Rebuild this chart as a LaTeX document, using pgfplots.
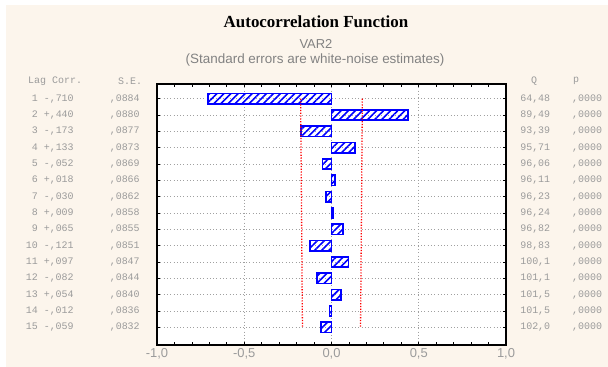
\documentclass[border=0pt]{standalone}
\usepackage{fontspec}
\setmainfont{Liberation Sans}
\setmonofont{Liberation Mono}
\newfontfamily\titlefont{Liberation Serif}
\usepackage{pgfplots}
\pgfplotsset{compat=1.18}
\usepackage{pgfplotstable}
\usetikzlibrary{patterns.meta}
\definecolor{cream}{RGB}{252,245,236}
\definecolor{txt}{RGB}{155,155,155}
\definecolor{subc}{RGB}{130,130,130}
\definecolor{gridc}{RGB}{160,160,160}

\pgfplotstableread{
lag corr   rs    ses   lo      hi     q     p
1  -0.710 -,710 ,0884 -0.1768 0.1768 64,48 ,0000
2   0.440 +,440 ,0880 -0.1760 0.1760 89,49 ,0000
3  -0.173 -,173 ,0877 -0.1754 0.1754 93,39 ,0000
4   0.133 +,133 ,0873 -0.1746 0.1746 95,71 ,0000
5  -0.052 -,052 ,0869 -0.1738 0.1738 96,06 ,0000
6   0.018 +,018 ,0866 -0.1732 0.1732 96,11 ,0000
7  -0.030 -,030 ,0862 -0.1724 0.1724 96,23 ,0000
8   0.009 +,009 ,0858 -0.1716 0.1716 96,24 ,0000
9   0.065 +,065 ,0855 -0.1710 0.1710 96,82 ,0000
10 -0.121 -,121 ,0851 -0.1702 0.1702 98,83 ,0000
11  0.097 +,097 ,0847 -0.1694 0.1694 100,1 ,0000
12 -0.082 -,082 ,0844 -0.1688 0.1688 101,1 ,0000
13  0.054 +,054 ,0840 -0.1680 0.1680 101,5 ,0000
14 -0.012 -,012 ,0836 -0.1672 0.1672 101,5 ,0000
15 -0.059 -,059 ,0832 -0.1664 0.1664 102,0 ,0000
}\acf

\begin{document}
\begin{tikzpicture}
\path[use as bounding box, fill=white] (0,0) rectangle (608bp,367bp);
\fill[cream] (6bp,0) rectangle (608bp,362bp);

\node[font=\titlefont\bfseries\fontsize{17}{17}\selectfont] at (316bp,345bp) {Autocorrelation Function};
\node[text=subc, font=\fontsize{13}{13}\selectfont] at (316bp,323bp) {VAR2};
\node[text=subc, font=\fontsize{13.5}{13.5}\selectfont] at (315bp,307bp) {(Standard errors are white-noise estimates)};

\node[anchor=west, inner sep=0pt, text=txt, font=\ttfamily\fontsize{10}{10}\selectfont] at (28bp,286bp) {Lag Corr.};
\node[anchor=west, inner sep=0pt, text=txt, font=\ttfamily\fontsize{10}{10}\selectfont] at (118bp,286bp) {S.E.};
\node[inner sep=0pt, text=txt, font=\ttfamily\fontsize{10}{10}\selectfont] at (534bp,286bp) {Q};
\node[anchor=west, inner sep=0pt, text=txt, font=\ttfamily\fontsize{10}{10}\selectfont] at (573bp,286bp) {p};

\begin{axis}[
  at={(157bp,22bp)}, anchor=south west,
  scale only axis, width=349bp, height=261bp,
  xmin=-1, xmax=1, ymin=0.1, ymax=16.08, y dir=reverse,
  axis background/.style={fill=white},
  axis line style={line width=1.5bp},
  xtick={-1,-0.5,0,0.5,1}, minor x tick num=4,
  xtick pos=both, ytick pos=both, yticklabel pos=left,
  ytick={1,...,15},
  major tick length=3bp, minor tick length=3bp,
  every tick/.style={black, line width=0.8bp},
  xmajorgrids, ymajorgrids,
  major grid style={gridc, dash pattern=on 0.9bp off 2.4bp, line width=0.9bp},
  xticklabel style={text=txt, font=\fontsize{13}{13}\selectfont,
    /pgf/number format/fixed, /pgf/number format/fixed zerofill,
    /pgf/number format/precision=1, /pgf/number format/use comma,
    /pgf/number format/assume math mode=true},
  yticklabel style={text=txt, font=\ttfamily\fontsize{10}{10}\selectfont, anchor=east, inner sep=0pt, xshift=-7bp},
  yticklabel={%
    \pgfplotstablegetelem{\ticknum}{lag}\of\acf\makebox[20bp][r]{\pgfplotsretval}%
    \hspace{6bp}%
    \pgfplotstablegetelem{\ticknum}{rs}\of\acf\makebox[66bp][l]{\pgfplotsretval}%
    \pgfplotstablegetelem{\ticknum}{ses}\of\acf\makebox[40bp][l]{\pgfplotsretval}},
]
\addplot[xbar, bar shift=0pt, bar width=0.64, draw=blue, line width=1.8bp,
  pattern={Lines[angle=45,distance=5bp,line width=1.6bp]}, pattern color=blue]
  table[x=corr, y=lag]{\acf};
\addplot[red, line width=1.3bp, dash pattern=on 1.2bp off 1.6bp, mark=none]
  table[x=lo, y=lag]{\acf};
\addplot[red, line width=1.3bp, dash pattern=on 1.2bp off 1.6bp, mark=none]
  table[x=hi, y=lag]{\acf};
\end{axis}

\begin{axis}[
  at={(157bp,22bp)}, anchor=south west,
  scale only axis, width=349bp, height=261bp,
  xmin=-1, xmax=1, ymin=0.1, ymax=16.08, y dir=reverse,
  axis line style={draw=none}, xtick=\empty,
  ytick={1,...,15}, ytick pos=right, yticklabel pos=right,
  major tick length=0pt,
  yticklabel style={text=txt, font=\ttfamily\fontsize{10}{10}\selectfont, anchor=west, inner sep=0pt, xshift=7bp},
  yticklabel={%
    \pgfplotstablegetelem{\ticknum}{q}\of\acf\makebox[37bp][r]{\pgfplotsretval}%
    \hspace{22bp}%
    \pgfplotstablegetelem{\ticknum}{p}\of\acf\pgfplotsretval},
]
\addplot[draw=none, mark=none] table[x=corr, y=lag]{\acf};
\end{axis}
\end{tikzpicture}
\end{document}
